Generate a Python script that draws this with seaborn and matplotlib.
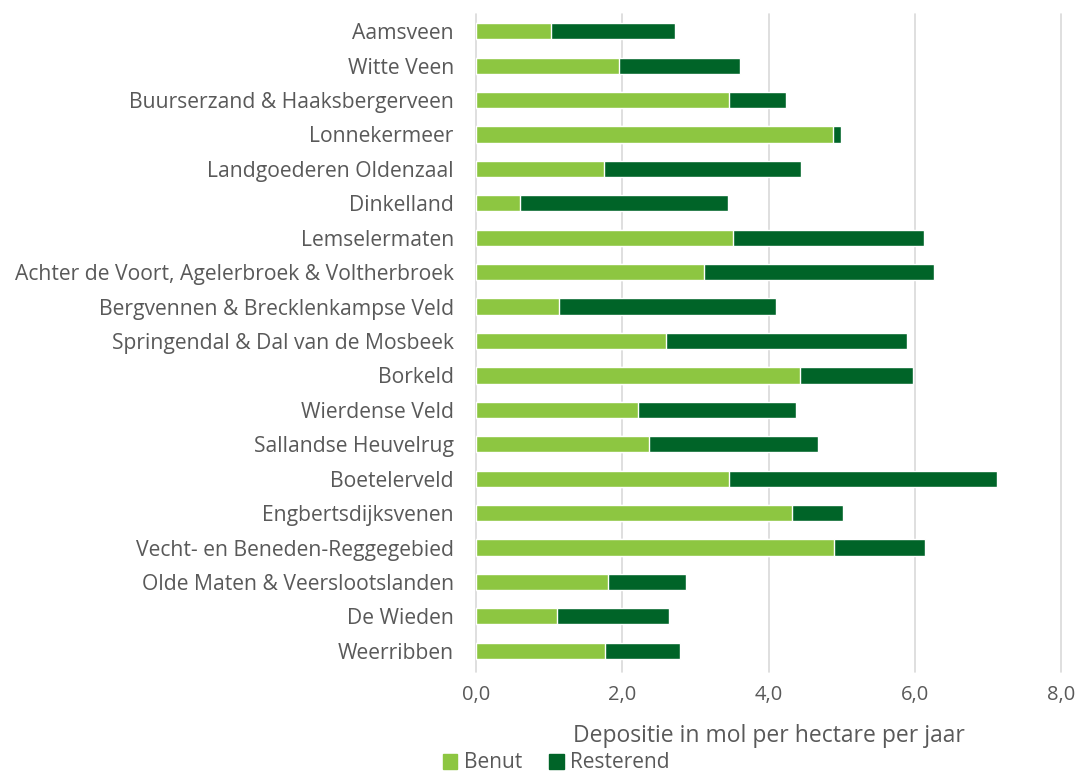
import numpy as np
import pandas as pd
import matplotlib
matplotlib.use("Agg")
import matplotlib.pyplot as plt
import seaborn as sns
from matplotlib.patches import Patch

# data
gebieden = [
    "Aamsveen", "Witte Veen", "Buurserzand & Haaksbergerveen", "Lonnekermeer",
    "Landgoederen Oldenzaal", "Dinkelland", "Lemselermaten",
    "Achter de Voort, Agelerbroek & Voltherbroek", "Bergvennen & Brecklenkampse Veld",
    "Springendal & Dal van de Mosbeek", "Borkeld", "Wierdense Veld",
    "Sallandse Heuvelrug", "Boetelerveld", "Engbertsdijksvenen",
    "Vecht- en Beneden-Reggegebied", "Olde Maten & Veerslootslanden",
    "De Wieden", "Weerribben",
]
benut = [1.03, 1.95, 3.46, 4.88, 1.75, 0.60, 3.51, 3.12, 1.13, 2.60,
         4.43, 2.21, 2.37, 3.46, 4.32, 4.90, 1.81, 1.11, 1.77]
resterend = [1.69, 1.66, 0.78, 0.11, 2.70, 2.84, 2.61, 3.14, 2.97, 3.30,
             1.55, 2.16, 2.31, 3.66, 0.70, 1.24, 1.06, 1.53, 1.02]
xticks = [0, 2, 4, 6, 8]

licht = "#8DC641"
donker = "#006428"
grijs = "#595959"

df = pd.DataFrame({"gebied": gebieden, "benut": benut, "resterend": resterend})
df["totaal"] = df["benut"] + df["resterend"]

sns.set_theme(style="white")
plt.rcParams["font.family"] = ["Open Sans", "DejaVu Sans"]

fig = plt.figure(figsize=(10.8, 7.73), dpi=100)
ax = fig.add_axes([476/1080, 1 - 668/773, (1061-476)/1080, (668-14)/773])

# stacked: totaal achter, benut ervoor
sns.barplot(data=df, x="totaal", y="gebied", color=donker, width=0.47,
            saturation=1, ax=ax, orient="h", zorder=3)
sns.barplot(data=df, x="benut", y="gebied", color=licht, width=0.47,
            saturation=1, ax=ax, orient="h", zorder=4)

ax.set_xlim(0, 8)
ax.set_ylim(len(gebieden) - 0.5, -0.5)
ax.set_xticks(xticks)
ax.set_xticklabels([f"{t:.1f}".replace(".", ",") for t in xticks])
for x in xticks:
    ax.axvline(x, ymin=-0.006, ymax=1, color="#D9D9D9", lw=1.2, zorder=1, clip_on=False)
for s in ax.spines.values():
    s.set_visible(False)
ax.tick_params(axis="x", length=0, colors=grijs, labelsize=14.5, pad=12)
ax.tick_params(axis="y", length=0, colors=grijs, labelsize=15.2, pad=16)
ax.set_ylabel("")
ax.set_xlabel("Depositie in mol per hectare per jaar", fontsize=16.5, color=grijs, labelpad=14)

handles = [Patch(color=licht, label="Benut"), Patch(color=donker, label="Resterend")]
fig.legend(handles=handles, loc="center", bbox_to_anchor=(556/1080, 1 - 763/773), ncol=2,
           frameon=False, fontsize=15, labelcolor=grijs, handlelength=0.7, handleheight=0.7,
           handletextpad=0.3, columnspacing=1.3, borderaxespad=0)

fig.savefig("out.png", dpi=100)
